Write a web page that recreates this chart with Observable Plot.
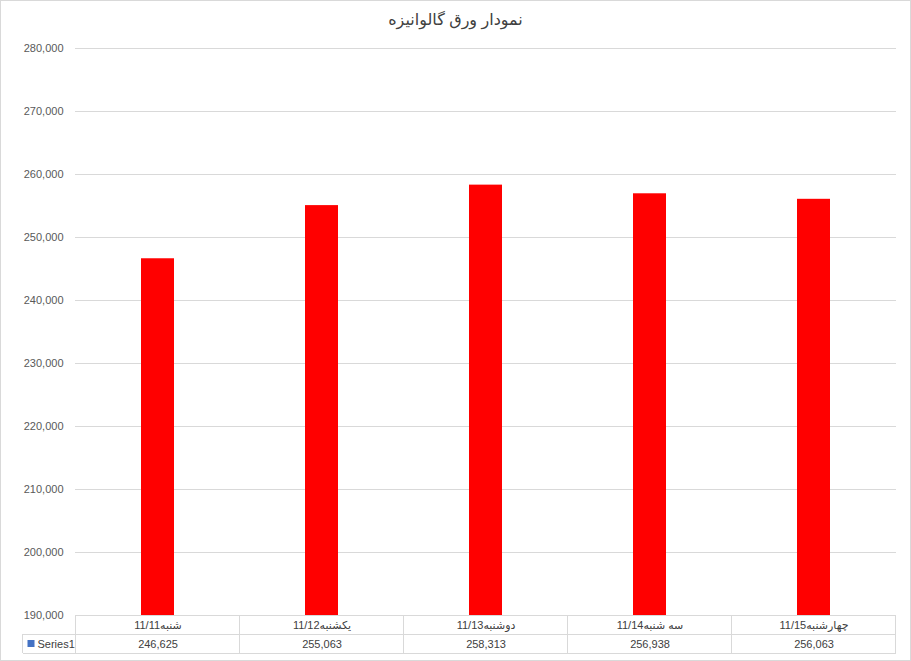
<!DOCTYPE html>
<html>
<head>
<meta charset="utf-8">
<script src="https://cdn.jsdelivr.net/npm/d3@7"></script>
<script src="https://cdn.jsdelivr.net/npm/@observablehq/plot@0.6"></script>
<style>
  body { margin: 0; background: #fff; }
  #wrap { position: relative; width: 911px; height: 661px; box-sizing: border-box; border: 1px solid #d9d9d9; background: #fff; }
  #title { height: 38px; line-height: 38px; text-align: center; font-family: "Liberation Sans", "DejaVu Sans", sans-serif; font-size: 16px; color: #404040; }
  svg { display: block; }
</style>
</head>
<body>
<div id="wrap">
  <div id="title">نمودار ورق گالوانیزه</div>
  <div id="chart"></div>
</div>
<script>
const title = "نمودار ورق گالوانیزه";
const days = ["شنبه11/11", "یکشنبه11/12", "دوشنبه11/13", "سه شنبه11/14", "چهارشنبه11/15"];
const values = [246625, 255063, 258313, 256938, 256063];
const yTicks = [190000, 200000, 210000, 220000, 230000, 240000, 250000, 260000, 270000, 280000];
const seriesName = "Series1";

const data = days.map((d, i) => ({day: d, value: values[i]}));
const fmt = d3.format(",");
const yMin = d3.min(yTicks), yMax = d3.max(yTicks);
const font = '"Liberation Sans", "DejaVu Sans", sans-serif';
const lineColor = "#d9d9d9";
const rowH = 19;

const W = 909, H = 621;
const chart = Plot.plot({
  width: W,
  height: H,
  marginTop: 9,
  marginBottom: 45,
  marginLeft: 74,
  marginRight: 14,
  style: {fontFamily: font, fontSize: "11px", color: "#595959", background: "#fff", overflow: "visible"},
  x: {domain: days, paddingInner: 0.8, paddingOuter: 0.4, axis: null},
  y: {domain: [yMin, yMax], ticks: yTicks, tickFormat: fmt, tickSize: 0, tickPadding: 12, label: null},
  marks: [
    Plot.ruleY(yTicks, {stroke: lineColor, strokeWidth: 1}),
    Plot.barY(data, {x: "day", y1: yMin, y2: "value", fill: "#ff0000"}),
    Plot.text(data, {x: "day", text: "day", frameAnchor: "bottom", dy: 10, lineAnchor: "middle", fill: "#404040", fontSize: 11}),
    Plot.text(data, {x: "day", text: d => fmt(d.value), frameAnchor: "bottom", dy: 29, lineAnchor: "middle", fill: "#404040", fontSize: 11}),
    Plot.text([seriesName], {text: d => d, frameAnchor: "bottom-left", dx: -38, dy: 29, textAnchor: "start", lineAnchor: "middle", fill: "#404040", fontSize: 11})
  ]
});
document.getElementById("chart").appendChild(chart);

// data table grid, positioned from the chart's own scales
const sx = chart.scale("x");
const sy = chart.scale("y");
const step = sx.step != null ? sx.step : (sx.range[1] - sx.range[0]) / days.length;
const bw = sx.bandwidth != null ? sx.bandwidth : step * 0.2;
const bounds = days.map(d => sx.apply(d) + bw / 2 - step / 2);
bounds.push(sx.apply(days[days.length - 1]) + bw / 2 + step / 2);
const y0 = sy.apply(yMin);
const left = bounds[0];
const right = bounds[bounds.length - 1];
const labelLeft = left - 53;

const g = d3.select(chart).append("g").attr("stroke", lineColor).attr("stroke-width", 1).attr("shape-rendering", "crispEdges");
g.append("line").attr("x1", left).attr("x2", right).attr("y1", y0).attr("y2", y0);
[1, 2].forEach(k => {
  g.append("line").attr("x1", labelLeft).attr("x2", right).attr("y1", y0 + k * rowH).attr("y2", y0 + k * rowH);
});
bounds.forEach(x => {
  g.append("line").attr("x1", x).attr("x2", x).attr("y1", y0).attr("y2", y0 + 2 * rowH);
});
g.append("line").attr("x1", labelLeft).attr("x2", labelLeft).attr("y1", y0 + rowH).attr("y2", y0 + 2 * rowH);
d3.select(chart).append("rect")
  .attr("x", labelLeft + 5).attr("y", y0 + rowH + 6).attr("width", 7).attr("height", 7)
  .attr("fill", "#4472c4");
</script>
</body>
</html>
